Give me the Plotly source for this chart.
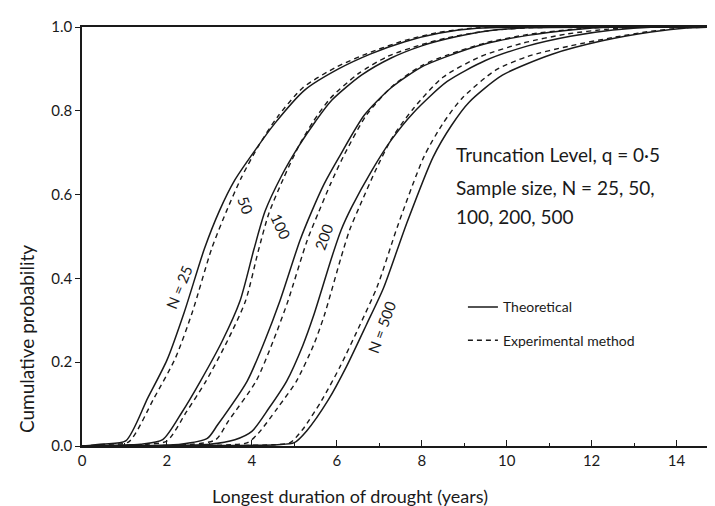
import plotly.graph_objects as go

# ---- data ----
x25_th = [0, 0.5, 1.03, 1.55, 2.0, 2.41, 2.88, 3.23, 3.6, 4.07, 4.54, 5.25, 6.04, 6.8, 7.6, 8.4, 9.3, 15]
y25_th = [0, 0.005, 0.012, 0.115, 0.205, 0.32, 0.47, 0.56, 0.635, 0.705, 0.77, 0.85, 0.90, 0.936, 0.965, 0.985, 0.997, 1.0]
x25_ex = [0, 0.6, 1.1, 1.7, 2.2, 2.6, 3.05, 3.4, 3.75, 4.15, 4.6, 5.2, 6.0, 6.8, 7.6, 8.4, 9.3, 15]
y25_ex = [0, 0.004, 0.01, 0.115, 0.21, 0.32, 0.47, 0.56, 0.64, 0.715, 0.785, 0.855, 0.905, 0.94, 0.968, 0.987, 0.998, 1.0]

x50_th = [0, 0.8, 1.38, 1.9, 2.35, 2.79, 3.3, 3.72, 4.05, 4.31, 4.7, 5.1, 5.5, 5.88, 6.58, 7.28, 8.0, 8.6, 9.5, 10.5, 15]
y50_th = [0, 0.002, 0.004, 0.015, 0.08, 0.155, 0.25, 0.346, 0.47, 0.56, 0.645, 0.715, 0.775, 0.825, 0.885, 0.926, 0.955, 0.972, 0.99, 0.998, 1.0]
x50_ex = [0, 1.0, 1.5, 2.0, 2.45, 2.92, 3.42, 3.85, 4.15, 4.4, 4.75, 5.1, 5.45, 5.85, 6.5, 7.2, 8.0, 8.6, 9.5, 10.5, 15]
y50_ex = [0, 0.002, 0.004, 0.012, 0.08, 0.155, 0.25, 0.346, 0.465, 0.555, 0.64, 0.715, 0.775, 0.83, 0.888, 0.93, 0.958, 0.974, 0.99, 0.998, 1.0]

x100_th = [0, 1.5, 2.32, 2.95, 3.19, 3.89, 4.3, 4.66, 5.13, 5.41, 5.7, 6.04, 6.65, 7.28, 8.0, 8.6, 9.5, 10.5, 11.5, 12.5, 15]
y100_th = [0, 0.001, 0.004, 0.018, 0.05, 0.155, 0.25, 0.346, 0.49, 0.56, 0.625, 0.687, 0.79, 0.855, 0.905, 0.93, 0.96, 0.98, 0.993, 1.0, 1.0]
x100_ex = [0, 1.8, 2.6, 3.15, 3.45, 4.1, 4.5, 4.85, 5.3, 5.58, 5.85, 6.15, 6.7, 7.3, 8.0, 8.6, 9.5, 10.5, 11.5, 12.5, 15]
y100_ex = [0, 0.001, 0.004, 0.015, 0.06, 0.155, 0.25, 0.346, 0.49, 0.56, 0.625, 0.69, 0.79, 0.858, 0.908, 0.933, 0.962, 0.982, 0.994, 1.0, 1.0]

x200_th = [0, 2.0, 3.0, 3.6, 4.0, 4.4, 4.82, 5.2, 5.45, 5.88, 6.1, 6.35, 6.81, 7.28, 7.8, 8.6, 9.5, 10.5, 11.5, 12.5, 13.5, 15]
y200_th = [0, 0.001, 0.004, 0.015, 0.035, 0.09, 0.155, 0.24, 0.31, 0.45, 0.515, 0.57, 0.655, 0.73, 0.795, 0.87, 0.92, 0.955, 0.978, 0.993, 1.0, 1.0]
x200_ex = [0, 2.5, 3.5, 3.9, 4.15, 4.6, 5.05, 5.45, 5.7, 6.1, 6.3, 6.55, 6.9, 7.3, 7.8, 8.5, 9.4, 10.4, 11.4, 12.4, 13.3, 15]
y200_ex = [0, 0.001, 0.003, 0.008, 0.03, 0.09, 0.155, 0.24, 0.31, 0.45, 0.515, 0.575, 0.655, 0.735, 0.805, 0.88, 0.93, 0.962, 0.983, 0.995, 1.0, 1.0]

x500_th = [0, 3.5, 4.6, 5.0, 5.29, 5.8, 6.23, 6.7, 7.1, 7.63, 8.27, 8.7, 9.11, 9.9, 11.07, 12.25, 13.4, 14.3, 15]
y500_th = [0, 0.001, 0.003, 0.008, 0.036, 0.11, 0.19, 0.29, 0.377, 0.527, 0.69, 0.765, 0.82, 0.885, 0.935, 0.967, 0.988, 0.998, 1.0]
x500_ex = [0, 3.5, 4.5, 4.9, 5.2, 5.65, 6.08, 6.55, 6.95, 7.45, 8.05, 8.5, 8.95, 9.74, 10.5, 11.5, 12.5, 13.4, 14.2, 15]
y500_ex = [0, 0.001, 0.003, 0.008, 0.04, 0.11, 0.19, 0.29, 0.38, 0.53, 0.69, 0.77, 0.83, 0.897, 0.93, 0.955, 0.975, 0.99, 0.998, 1.0]

x_tickvals = [0, 2, 4, 6, 8, 10, 12, 14]
x_ticktext = ["0", "2", "4", "6", "8", "10", "12", "14"]
y_tickvals = [0, 0.2, 0.4, 0.6, 0.8, 1.0]
y_ticktext = ["0.0", "0.2", "0.4", "0.6", "0.8", "1.0"]

curve_labels = ["N = 25", "50", "100", "200", "N = 500"]
label_x = [2.28, 3.85, 4.68, 5.68, 7.05]
label_y = [0.38, 0.575, 0.525, 0.50, 0.285]
label_angle = [-68, 70, 65, -70, -70]

FONT = "Lato, 'Noto Sans', sans-serif"
INK = "#1a1a1a"

fig = go.Figure()
series = [
    (x25_th, y25_th, x25_ex, y25_ex),
    (x50_th, y50_th, x50_ex, y50_ex),
    (x100_th, y100_th, x100_ex, y100_ex),
    (x200_th, y200_th, x200_ex, y200_ex),
    (x500_th, y500_th, x500_ex, y500_ex),
]
for i, (xt, yt, xe, ye) in enumerate(series):
    fig.add_trace(go.Scatter(
        x=xt, y=yt, mode="lines", name="Theoretical",
        line=dict(color=INK, width=1.5, shape="spline", smoothing=0.7),
        showlegend=(i == 0), legendgroup="th", hoverinfo="skip"))
    fig.add_trace(go.Scatter(
        x=xe, y=ye, mode="lines", name="Experimental method",
        line=dict(color=INK, width=1.4, dash="5px,4px", shape="spline", smoothing=0.7),
        showlegend=(i == 0), legendgroup="ex", hoverinfo="skip"))

for t, lx, ly, ang in zip(curve_labels, label_x, label_y, label_angle):
    fig.add_annotation(x=lx, y=ly, xref="x", yref="y", text=t, showarrow=False,
                       textangle=ang, font=dict(family=FONT, size=15, color=INK))

info = ["Truncation Level, q = 0·5", "Sample size, N = 25, 50,", "100, 200, 500"]
info_y = [0.695, 0.617, 0.547]
for t, yy in zip(info, info_y):
    fig.add_annotation(x=0.584, y=yy, xref="paper", yref="paper", text=t,
                       showarrow=False, xanchor="left", yanchor="middle",
                       font=dict(family=FONT, size=19, color=INK))

fig.add_annotation(x=0.42, y=-0.12, xref="paper", yref="paper",
                   text="Longest duration of drought (years)", showarrow=False,
                   xanchor="center", yanchor="middle",
                   font=dict(family=FONT, size=18, color=INK))
fig.add_annotation(x=-0.088, y=0.255, xref="paper", yref="paper",
                   text="Cumulative probability", showarrow=False, textangle=-90,
                   xanchor="center", yanchor="middle",
                   font=dict(family=FONT, size=19, color=INK))

fig.update_xaxes(range=[0, 15], tickvals=x_tickvals, ticktext=x_ticktext,
                 ticks="inside", ticklen=6, tickwidth=1.2, tickcolor=INK,
                 minor=dict(dtick=1, tick0=0, ticks="inside", ticklen=3, tickcolor=INK),
                 showline=True, linecolor=INK, linewidth=1.5, mirror=True,
                 showgrid=False, zeroline=False, ticklabelstandoff=0,
                 tickfont=dict(family=FONT, size=15, color=INK))
fig.update_yaxes(range=[0, 1.0], tickvals=y_tickvals, ticktext=y_ticktext,
                 ticks="outside", ticklen=5, tickwidth=1.2, tickcolor=INK,
                 showline=True, linecolor=INK, linewidth=1.5, mirror=True,
                 showgrid=False, zeroline=False,
                 tickfont=dict(family=FONT, size=15, color=INK))

fig.update_layout(
    width=715, height=506,
    margin=dict(l=74, r=2, t=19, b=68),
    paper_bgcolor="white", plot_bgcolor="white",
    legend=dict(x=0.598, y=0.369, xanchor="left", yanchor="top",
                bgcolor="rgba(0,0,0,0)", traceorder="grouped", tracegroupgap=12,
                font=dict(family=FONT, size=14, color=INK)),
)

fig.write_html("out.html")
